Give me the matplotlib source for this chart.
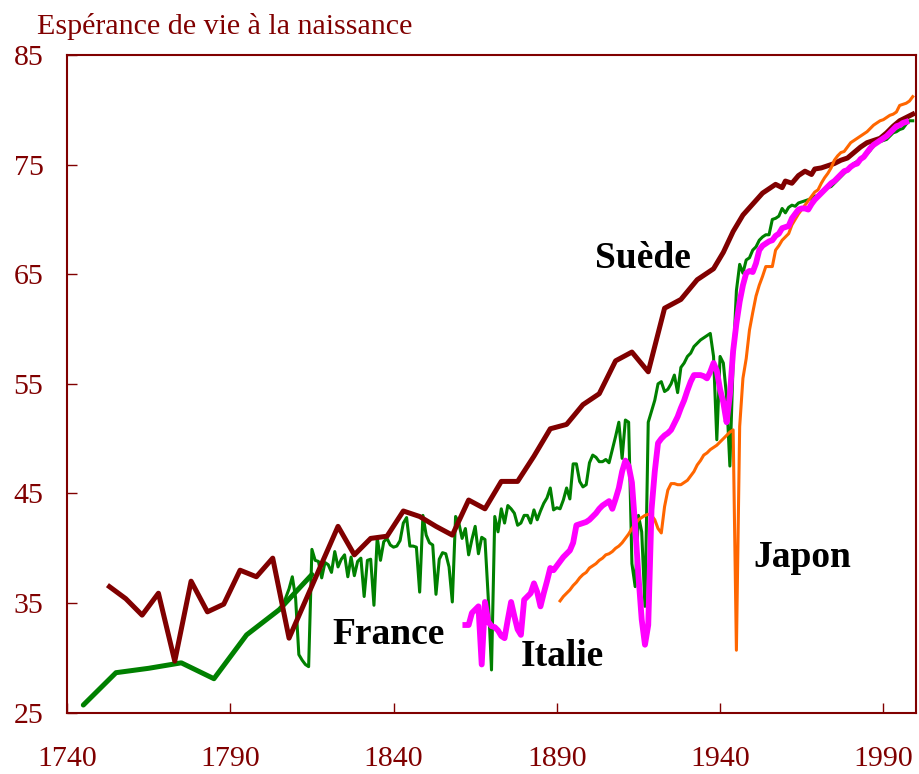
import matplotlib
matplotlib.use('agg')
import matplotlib.pyplot as plt

# Espérance de vie à la naissance : Suède, France, Italie, Japon

# Suède (5-year means then annual)
swe_years = [1753, 1758, 1763, 1768, 1773, 1778, 1783, 1788, 1793, 1798, 1803, 1808,
             1823, 1828, 1833, 1838, 1843, 1848, 1853, 1858, 1863, 1868, 1873, 1878,
             1883, 1888, 1893, 1898, 1903, 1908, 1913, 1918, 1923, 1928, 1933, 1938,
             1941, 1944, 1947, 1950, 1953, 1955, 1957, 1959, 1960, 1962, 1964, 1966,
             1968, 1969, 1971, 1973, 1975, 1977, 1979, 1981, 1983, 1985, 1987, 1989,
             1991, 1993, 1995, 1997, 1999]
swe_vals = [36.5, 35.4, 33.9, 35.9, 29.7, 37.0, 34.2, 34.9, 38.0, 37.4, 39.1, 31.8,
            42.0, 39.4, 40.9, 41.1, 43.4, 42.9, 42.0, 41.2, 44.4, 43.6, 46.1, 46.1,
            48.4, 50.9, 51.3, 53.1, 54.1, 57.1, 57.9, 56.1, 61.9, 62.7, 64.5, 65.5,
            67.0, 68.9, 70.4, 71.4, 72.4, 72.8, 73.2, 72.9, 73.5, 73.3, 74.0, 74.4,
            74.1, 74.6, 74.7, 74.9, 75.1, 75.4, 75.6, 76.1, 76.6, 77.0, 77.2, 77.4,
            77.9, 78.5, 79.0, 79.3, 79.6]

# France, 18th century decades
fra_dec_years = [1745, 1755, 1765, 1775, 1785, 1795, 1805, 1815]
fra_dec_vals = [25.7, 28.65, 29.05, 29.55, 28.1, 32.1, 34.4, 37.6]

# France, annual series
fra_years = list(range(1806, 2000))
fra_vals = [34.5, 35.5, 36.3, 37.4, 35.5, 30.3, 29.8, 29.4, 29.2, 39.9,   # 1806-1815
            38.9, 38.8, 37.3, 38.7, 38.5, 37.8, 39.7, 38.3, 39.0, 39.4,   # 1816-1825
            37.4, 39.2, 37.5, 38.8, 39.1, 35.6, 38.9, 39.0, 34.8, 41.0,   # 1826-1835
            38.9, 40.6, 40.9, 40.3, 40.1, 40.2, 40.7, 42.3, 42.8, 40.2,   # 1836-1845
            40.2, 40.1, 36.0, 43.0, 41.2, 40.5, 40.3, 35.8, 39.0, 39.6,   # 1846-1855
            39.5, 38.3, 35.1, 42.9, 42.3, 40.9, 41.8, 39.4, 40.8, 42.0,   # 1856-1865
            39.5, 41.0, 40.8, 35.5, 28.9, 42.9, 41.5, 43.6, 42.3, 43.9,   # 1866-1875
            43.6, 43.2, 42.1, 42.3, 43.0, 43.0, 42.3, 43.5, 42.6, 43.4,   # 1876-1885
            44.1, 44.6, 45.5, 43.5, 43.7, 43.6, 44.4, 45.5, 44.5, 47.7,   # 1886-1895
            47.7, 46.1, 45.6, 45.8, 47.8, 48.5, 48.3, 47.9, 47.9, 48.1,   # 1896-1905
            47.8, 49.0, 50.2, 51.5, 48.2, 51.7, 51.5, 38.6, 36.5, 43.0,   # 1906-1915
            41.5, 34.7, 51.5, 52.5, 53.5, 55.0, 55.2, 54.3, 54.5, 55.0,   # 1916-1925
            55.8, 54.2, 56.5, 56.9, 57.5, 57.8, 58.4, 58.7, 59.0, 59.2,   # 1926-1935
            59.4, 59.6, 57.5, 49.9, 57.5, 56.9, 53.8, 47.5, 57.0, 63.5,   # 1936-1945
            65.9, 65.1, 66.3, 66.5, 67.2, 67.5, 68.1, 68.4, 68.6, 68.6,   # 1946-1955
            70.0, 70.1, 70.3, 71.0, 70.6, 71.1, 71.3, 71.2, 71.5, 71.6,   # 1956-1965
            71.7, 71.8, 71.9, 72.1, 72.2, 72.5, 72.7, 72.9, 73.0, 73.3,   # 1966-1975
            73.6, 73.9, 74.2, 74.5, 74.8, 75.1, 75.3, 75.5, 75.7, 76.0,   # 1976-1985
            76.3, 76.7, 77.0, 77.1, 77.2, 77.3, 77.6, 77.9, 78.0, 78.2,   # 1986-1995
            78.3, 78.7, 79.0, 79.0]                                       # 1996-1999

# Italie, annual series
ita_years = list(range(1862, 1998))
ita_vals = [33.0, 33.0, 34.1, 34.4, 34.7, 29.4, 35.1, 33.3, 32.9, 32.8,   # 1862-1871
            32.5, 32.0, 31.8, 33.5, 35.1, 33.8, 32.6, 32.1, 35.3, 35.6,   # 1872-1881
            35.9, 36.8, 36.0, 34.7, 35.9, 37.0, 38.2, 38.0, 38.4, 38.8,   # 1882-1891
            39.2, 39.5, 39.8, 40.5, 42.1, 42.2, 42.3, 42.4, 42.6, 42.9,   # 1892-1901
            43.2, 43.6, 43.9, 44.1, 44.3, 43.6, 44.5, 45.5, 47.0, 48.0,   # 1902-1911
            47.5, 46.0, 42.0, 37.5, 33.5, 31.2, 33.0, 43.5, 47.0, 49.6,   # 1912-1921
            50.0, 50.3, 50.5, 50.8, 51.4, 52.0, 52.8, 53.5, 54.4, 55.2,   # 1922-1931
            55.8, 55.8, 55.8, 55.7, 55.5, 56.1, 56.9, 56.2, 54.5, 53.3,   # 1932-1941
            51.5, 54.0, 58.0, 60.5, 62.5, 64.0, 65.1, 65.3, 65.2, 66.0,   # 1942-1951
            67.2, 67.6, 67.8, 68.0, 68.1, 68.5, 68.7, 69.2, 69.3, 69.4,   # 1952-1961
            70.1, 70.5, 70.9, 71.0, 71.0, 70.9, 71.4, 71.8, 72.1, 72.4,   # 1962-1971
            72.7, 73.0, 73.3, 73.5, 73.8, 74.1, 74.4, 74.5, 74.8, 75.0,   # 1972-1981
            75.1, 75.5, 75.7, 76.1, 76.5, 76.8, 77.0, 77.2, 77.4, 77.6,   # 1982-1991
            77.9, 78.2, 78.5, 78.6, 78.8, 78.9]                           # 1992-1997

# Japon, annual series
jpn_years = list(range(1891, 2000))
jpn_vals = [35.2, 35.6, 35.9, 36.2, 36.6, 36.9, 37.3, 37.6, 37.8, 38.2,   # 1891-1900
            38.4, 38.6, 38.9, 39.1, 39.4, 39.5, 39.7, 40.0, 40.2, 40.5,   # 1901-1910
            40.9, 41.3, 41.8, 42.2, 42.6, 42.8, 43.0, 43.1, 43.0, 42.6,   # 1911-1920
            41.8, 41.4, 43.8, 45.3, 45.9, 45.9, 45.8, 45.8, 46.0, 46.2,   # 1921-1930
            46.6, 47.0, 47.6, 48.0, 48.5, 48.7, 49.0, 49.2, 49.4, 49.7,   # 1931-1940
            50.0, 50.3, 50.6, 50.8, 30.7, 51.1, 55.5, 57.3, 59.9, 61.5,   # 1941-1950
            63.0, 64.0, 64.8, 65.7, 65.7, 65.7, 67.2, 67.6, 68.1, 68.4,   # 1951-1960
            68.7, 69.5, 70.0, 70.5, 70.9, 71.3, 71.7, 72.1, 72.5, 72.7,   # 1961-1970
            73.3, 73.8, 74.2, 74.7, 75.4, 75.8, 76.1, 76.2, 76.6, 77.0,   # 1971-1980
            77.2, 77.4, 77.6, 77.8, 78.0, 78.3, 78.6, 78.8, 79.0, 79.1,   # 1981-1990
            79.3, 79.5, 79.6, 79.8, 80.4, 80.5, 80.6, 80.8, 81.2]         # 1991-1999

xticks = [1740, 1790, 1840, 1890, 1940, 1990]
yticks = [25, 35, 45, 55, 65, 75, 85]

RED = '#800000'
plt.rcParams['font.family'] = ['Liberation Serif', 'DejaVu Serif']

fig = plt.figure(figsize=(9.19, 7.74), dpi=100)
ax = fig.add_axes([67 / 919, 61.3 / 774, 849 / 919, 657.7 / 774])

# series (green under, Sweden over green, Italy on top)
ax.plot(fra_dec_years, fra_dec_vals, color='#008000', lw=3.6, solid_capstyle='round')
ax.plot(fra_years, fra_vals, color='#008000', lw=2.2)
ax.plot(swe_years, swe_vals, color=RED, lw=3.6)
ax.plot(jpn_years, jpn_vals, color='#FF6600', lw=2.2)
ax.plot(ita_years, ita_vals, color='#FF00FF', lw=4.2)

ax.set_xlim(1740, 2000)
ax.set_ylim(25, 85)
ax.set_xticks(xticks)
ax.set_yticks(yticks)
ax.tick_params(direction='in', length=7, width=1, color=RED,
               labelcolor=RED, labelsize=21.5)
ax.tick_params(axis='x', pad=24)
ax.tick_params(axis='y', pad=17)
for side in ax.spines.values():
    side.set_color(RED)
    side.set_linewidth(1.5)

# country names
lab = dict(fontsize=27, fontweight='bold', color='black', va='baseline', ha='left')
ax.text(1901.7, 65.6, 'Suède', **lab)
ax.text(1821.4, 31.3, 'France', **lab)
ax.text(1879.0, 29.3, 'Italie', **lab)
ax.text(1950.3, 38.3, 'Japon', **lab)

fig.text(37 / 919, 1 - 33.5 / 774, 'Espérance de vie à la naissance',
         fontsize=21.6, color=RED, va='baseline', ha='left')

fig.savefig('out.png', dpi=100)
plt.close()
